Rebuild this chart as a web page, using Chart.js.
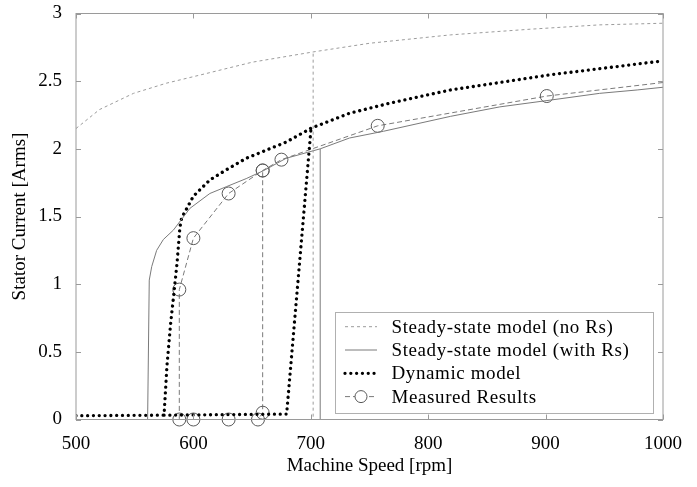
<!DOCTYPE html>
<html>
<head>
<meta charset="utf-8">
<script src="https://cdn.jsdelivr.net/npm/chart.js@4.4.0/dist/chart.umd.min.js"></script>
<style>
  html, body { margin: 0; padding: 0; background: #ffffff; }
  #wrap { width: 697px; height: 487px; }
</style>
</head>
<body>
<div id="wrap"><canvas id="chart" width="697" height="487"></canvas></div>
<script>
// Stator current versus machine speed: steady-state models, dynamic model and measurements.
// null entries split a series into separate line pieces.

const xTicks = [500, 600, 700, 800, 900, 1000];
const yTicks = [0, 0.5, 1, 1.5, 2, 2.5, 3];

// Steady-state model without stator resistance (upper branch, then lower branch and jump)
const noRsSpeed   = [500, 520, 549, 577, 606, 650, 702, 750, 819, 887, 946, 1000, null, 500, 702, 702];
const noRsCurrent = [2.15, 2.29, 2.41, 2.485, 2.546, 2.64, 2.716, 2.78, 2.842, 2.884, 2.916, 2.928, null, 0, 0, 2.716];

// Steady-state model with stator resistance
const withRsSpeed   = [561, 562.4, 564.5, 568.7, 574.4, 583, 597, 614, 628, 645, 660, 679, 708, 733, 762, 819, 861, 904, 946, 978, 1000, null, 500, 708, 708];
const withRsCurrent = [0, 1.03, 1.13, 1.25, 1.33, 1.40, 1.56, 1.67, 1.72, 1.78, 1.84, 1.93, 2.00, 2.08, 2.13, 2.24, 2.31, 2.36, 2.41, 2.435, 2.455, null, 0, 0, 2.0];

// Dynamic model (run-down branch, then run-up branch)
const dynSpeed   = [500, 575, 577.5, 580.5, 583, 586, 588.5, 590, 600, 614, 628, 645, 662, 679, 700.2, 733, 767, 819, 904, 1000, null, 575, 679.4, 700.2];
const dynCurrent = [0.028, 0.032, 0.4, 0.7, 0.9, 1.15, 1.42, 1.49, 1.65, 1.77, 1.845, 1.93, 1.99, 2.05, 2.152, 2.263, 2.337, 2.435, 2.547, 2.65, null, 0.032, 0.04, 2.152];

// Measured results
const measSpeed   = [1000, 901, 757, 675, 659, 630, 600, 588, 588, 600, 630, 655, 659, 659];
const measCurrent = [2.49, 2.39, 2.17, 1.92, 1.84, 1.67, 1.34, 0.96, 0, 0, 0, 0, 0.05, 1.84];

const toPoints = (xs, ys) => xs.map((x, i) => ({ x: x, y: ys[i] }));

Chart.defaults.font.family = '"Liberation Serif", "Times New Roman", serif';
Chart.defaults.color = '#000';

const AREA = { left: 76, right: 663, top: 13.5, bottom: 419.5, titleBottom: 477 };

// Box frame with inward tick marks on all four sides
const framePlugin = {
  id: 'frame',
  afterDatasetsDraw(chart) {
    const { ctx, chartArea: a, scales } = chart;
    ctx.save();
    ctx.strokeStyle = '#9a9a9a';
    ctx.lineWidth = 1;
    ctx.setLineDash([]);
    ctx.strokeRect(a.left, a.top, a.right - a.left, a.bottom - a.top);
    ctx.beginPath();
    xTicks.forEach(v => {
      const px = Math.round(scales.x.getPixelForValue(v)) + 0.5;
      ctx.moveTo(px, a.bottom); ctx.lineTo(px, a.bottom - 5);
      ctx.moveTo(px, a.top); ctx.lineTo(px, a.top + 5);
    });
    yTicks.forEach(v => {
      const py = Math.round(scales.y.getPixelForValue(v)) + 0.5;
      ctx.moveTo(a.left, py); ctx.lineTo(a.left + 5, py);
      ctx.moveTo(a.right, py); ctx.lineTo(a.right - 5, py);
    });
    ctx.stroke();
    ctx.restore();
  }
};

// Legend drawn as a framed box inside the lower right of the plot
const boxLegendPlugin = {
  id: 'boxLegend',
  afterDraw(chart) {
    const ctx = chart.ctx;
    const bx = 335.5, by = 312.5, bw = 318, bh = 101;
    ctx.save();
    ctx.fillStyle = '#ffffff';
    ctx.fillRect(bx, by, bw, bh);
    ctx.strokeStyle = '#b0b0b0';
    ctx.lineWidth = 1;
    ctx.setLineDash([]);
    ctx.strokeRect(bx, by, bw, bh);
    chart.data.datasets.forEach((ds, i) => {
      const cy = 326.7 + i * 23.3;
      ctx.beginPath();
      ctx.setLineDash(ds.borderDash || []);
      ctx.lineCap = ds.borderCapStyle || 'butt';
      ctx.lineWidth = ds.borderWidth;
      ctx.strokeStyle = ds.borderColor;
      ctx.moveTo(345, cy);
      ctx.lineTo(377, cy);
      ctx.stroke();
      if (ds.legendCircle) {
        ctx.setLineDash([]);
        ctx.fillStyle = '#ffffff';
        ctx.beginPath();
        ctx.arc(361, cy, 6, 0, Math.PI * 2);
        ctx.fill();
        ctx.lineWidth = 1;
        ctx.strokeStyle = ds.pointBorderColor;
        ctx.stroke();
      }
      ctx.fillStyle = '#000';
      ctx.font = '19px "Liberation Serif", "Times New Roman", serif';
      if ('letterSpacing' in ctx) ctx.letterSpacing = '0.6px';
      ctx.textBaseline = 'middle';
      ctx.textAlign = 'left';
      ctx.fillText(ds.label, 391.5, cy + 1);
    });
    ctx.restore();
  }
};

new Chart(document.getElementById('chart'), {
  type: 'scatter',
  data: {
    datasets: [
      {
        label: 'Steady-state model (no Rs)',
        data: toPoints(noRsSpeed, noRsCurrent),
        showLine: true,
        borderColor: '#9c9c9c',
        borderWidth: 1,
        borderDash: [3, 3],
        pointRadius: 0,
        spanGaps: false
      },
      {
        label: 'Steady-state model (with Rs)',
        data: toPoints(withRsSpeed, withRsCurrent),
        showLine: true,
        borderColor: '#7a7a7a',
        borderWidth: 1,
        pointRadius: 0,
        spanGaps: false
      },
      {
        label: 'Dynamic model',
        data: toPoints(dynSpeed, dynCurrent),
        showLine: true,
        borderColor: '#000000',
        borderWidth: 3.3,
        borderDash: [0.01, 5.8],
        borderCapStyle: 'round',
        borderJoinStyle: 'round',
        pointRadius: 0,
        spanGaps: false
      },
      {
        label: 'Measured Results',
        data: toPoints(measSpeed, measCurrent),
        showLine: true,
        clip: false,
        borderColor: '#7a7a7a',
        borderWidth: 1,
        borderDash: [5, 3],
        pointStyle: 'circle',
        pointRadius: measSpeed.map((s, i) => (i === 0 ? 0 : 6.5)),
        pointBorderWidth: 1,
        pointBorderColor: '#5a5a5a',
        pointBackgroundColor: 'rgba(0,0,0,0)',
        legendCircle: true,
        spanGaps: false
      }
    ]
  },
  options: {
    responsive: false,
    animation: false,
    devicePixelRatio: 1,
    layout: { padding: { top: AREA.top, right: 697 - AREA.right, left: 0, bottom: 487 - AREA.titleBottom } },
    plugins: {
      legend: { display: false },
      tooltip: { enabled: false }
    },
    scales: {
      x: {
        type: 'linear',
        min: 500,
        max: 1000,
        grid: { display: false },
        border: { display: false },
        afterBuildTicks: s => { s.ticks = xTicks.map(v => ({ value: v })); },
        afterFit: s => { s.height = AREA.titleBottom - AREA.bottom; s.paddingLeft = 0; s.paddingRight = 0; },
        ticks: { font: { size: 19 }, padding: 5, maxRotation: 0, callback: v => String(v) },
        title: { display: true, text: 'Machine Speed [rpm]', font: { size: 19 }, padding: { top: 10, bottom: 0 } }
      },
      y: {
        type: 'linear',
        min: 0,
        max: 3,
        grid: { display: false },
        border: { display: false },
        afterBuildTicks: s => { s.ticks = yTicks.map(v => ({ value: v })); },
        afterFit: s => { s.width = AREA.left; s.paddingTop = 0; s.paddingBottom = 0; },
        ticks: { font: { size: 19 }, padding: 6, callback: v => String(v) },
        title: { display: true, text: 'Stator Current [Arms]', font: { size: 19 }, padding: { top: 9, bottom: 0 } }
      }
    }
  },
  plugins: [framePlugin, boxLegendPlugin]
});
</script>
</body>
</html>
